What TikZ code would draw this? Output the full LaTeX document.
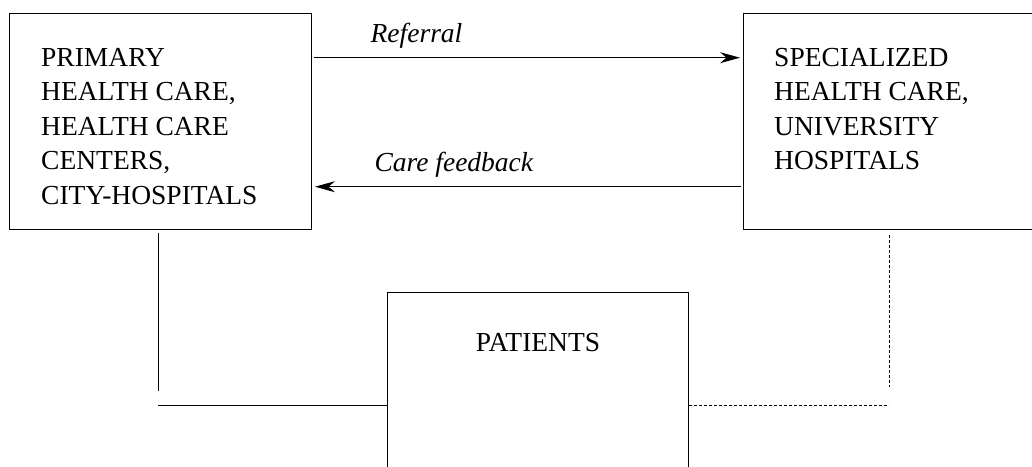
\documentclass[tikz,border=0pt]{standalone}
\usepackage{fontspec}
\setmainfont{Liberation Serif}
\usepackage{tikz}
\usetikzlibrary{arrows.meta, positioning}
\tikzstyle{unit} = [rectangle, draw=black, line width=1pt, minimum width=302pt, minimum height=216pt, inner sep=0pt]
\tikzstyle{unittext} = [align=left, inner sep=0pt, anchor=north west]
\tikzstyle{arrow} = [line width=1pt, -{Stealth[length=20pt, width=11pt]}, shorten <=2pt, shorten >=3pt]
\tikzstyle{link} = [line width=1pt]
\tikzstyle{dotlink} = [line width=1pt, dash pattern=on 3pt off 2pt]

\begin{document}
\begin{tikzpicture}[x=1pt, y=-1pt, every node/.style={font=\fontsize{27.5}{34.5}\selectfont}]
  \useasboundingbox (0,0) rectangle (1032,466);
  \clip (0,0) rectangle (1032,466);

  \node[unit, anchor=north west, label={[unittext, xshift=32pt, yshift=-35pt]north west:{PRIMARY\\HEALTH CARE,\\HEALTH CARE\\CENTERS,\\CITY-HOSPITALS}}] (primary) at (9,13) {};
  \node[unit, minimum width=295pt, right=431pt of primary, label={[unittext, xshift=31pt, yshift=-35pt]north west:{SPECIALIZED\\HEALTH CARE,\\UNIVERSITY\\HOSPITALS}}] (special) {};
  \node[unit, minimum width=301pt, minimum height=240pt, anchor=north west, label={[anchor=base, inner sep=0pt, yshift=-59pt]north:PATIENTS}] (patients) at (387,292) {};

  \coordinate (lbend) at (158,391);
  \coordinate (lfoot) at (158,405.7);
  \coordinate (rbend) at (889,387);
  \coordinate (rfoot) at (889,405.7);

  \draw[arrow] ([yshift=-44.7pt]primary.north east) -- node[pos=0.135, anchor=base west, inner sep=0pt, yshift=15pt]{\textit{Referral}} ([yshift=-44.7pt]special.north west);
  \draw[arrow] ([yshift=-173.7pt]special.north west) -- node[pos=0.856, anchor=base west, inner sep=0pt, yshift=15pt]{\textit{Care feedback}} ([yshift=-173.7pt]primary.north east);

  \draw[link] (lbend |- primary.south) ++(0,3) -- (lbend);
  \draw[link] (lfoot) -- (patients.west |- lfoot);
  \draw[dotlink] (rbend |- special.south) ++(0,5) -- (rbend);
  \draw[dotlink] (patients.east |- rfoot) -- (rfoot);
\end{tikzpicture}
\end{document}
